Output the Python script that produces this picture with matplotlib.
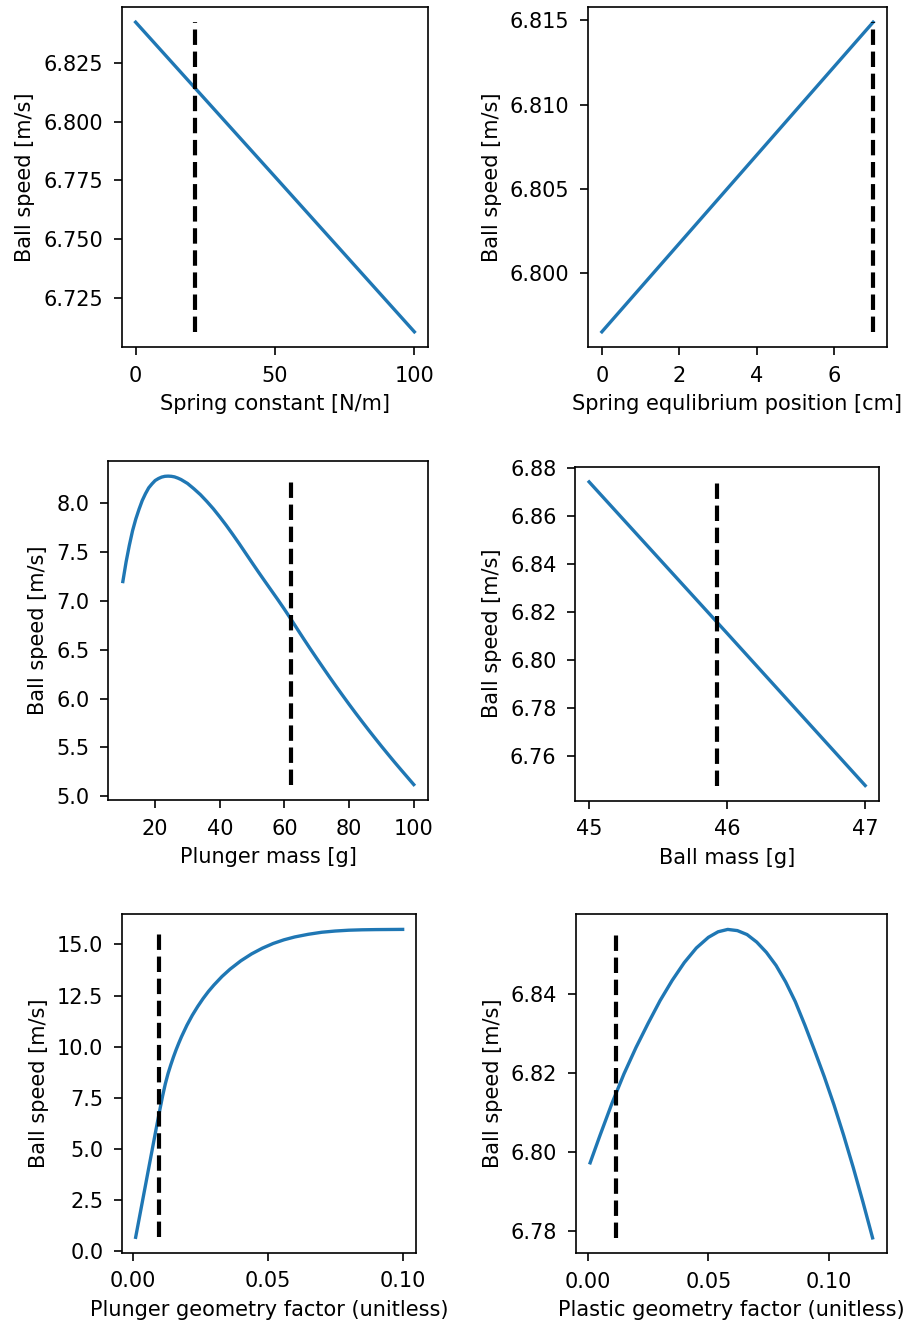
import matplotlib
matplotlib.use("Agg")
import matplotlib.pyplot as plt

W, H, DPI = 911, 1330, 150

# ---- data ----
spring_k = [0, 50, 100]
speed_k = [6.8423, 6.7765, 6.7105]
k_nominal = 21.2

spring_eq = [0, 3.5, 7]
speed_eq = [6.7965, 6.8057, 6.8149]
eq_nominal = 7.0

plunger_mass = [10, 11, 12, 13, 14, 15, 16, 17, 18, 19, 20, 21, 22, 23, 24, 25,
                26, 27, 28, 30, 32, 34, 36, 38, 40, 42, 44, 46, 48, 50, 52, 54,
                56, 58, 60, 62, 64, 66, 68, 70, 72, 74, 76, 78, 80, 82, 84, 86,
                88, 90, 92, 94, 96, 98, 100]
speed_pm = [7.20, 7.40, 7.57, 7.72, 7.84, 7.94, 8.03, 8.10, 8.16, 8.20, 8.235,
            8.255, 8.27, 8.278, 8.28, 8.278, 8.272, 8.26, 8.245, 8.205, 8.15,
            8.09, 8.02, 7.945, 7.862, 7.775, 7.683, 7.588, 7.490, 7.392, 7.295,
            7.200, 7.106, 7.012, 6.915, 6.815, 6.712, 6.610, 6.510, 6.412, 6.315,
            6.219, 6.125, 6.033, 5.942, 5.853, 5.766, 5.680, 5.596, 5.513,
            5.432, 5.352, 5.274, 5.197, 5.12]
pm_nominal = 62.1

ball_mass = [45, 46, 47]
speed_bm = [6.8742, 6.8110, 6.7475]
bm_nominal = 45.93

plunger_geo = [0.001, 0.002, 0.003, 0.004, 0.005, 0.006, 0.007, 0.008, 0.009,
               0.010, 0.011, 0.012, 0.013, 0.014, 0.015, 0.016, 0.017, 0.018,
               0.020, 0.022, 0.024, 0.026, 0.028, 0.030, 0.033, 0.036, 0.040,
               0.044, 0.048, 0.052, 0.056, 0.060, 0.065, 0.070, 0.075, 0.080,
               0.085, 0.090, 0.095, 0.100]
speed_pg = [0.65, 1.35, 2.05, 2.75, 3.45, 4.15, 4.85, 5.55, 6.24,
            6.92, 7.58, 8.17, 8.67, 9.09, 9.48, 9.84, 10.17, 10.48,
            11.04, 11.53, 11.96, 12.35, 12.70, 13.01, 13.43, 13.79, 14.20,
            14.54, 14.82, 15.05, 15.23, 15.37, 15.50, 15.60, 15.66, 15.70,
            15.72, 15.73, 15.735, 15.74]
pg_nominal = 0.0098

plastic_geo = [0.001, 0.005, 0.010, 0.015, 0.020, 0.025, 0.030, 0.035, 0.040,
               0.045, 0.050, 0.054, 0.058, 0.062, 0.066, 0.070, 0.074, 0.078,
               0.082, 0.086, 0.090, 0.094, 0.098, 0.102, 0.106, 0.110, 0.114,
               0.118]
speed_plg = [6.7972, 6.8040, 6.8122, 6.8197, 6.8264, 6.8325, 6.8383, 6.8434,
             6.8479, 6.8516, 6.8543, 6.8557, 6.8563, 6.8560, 6.8550, 6.8531,
             6.8505, 6.8472, 6.8430, 6.8380, 6.8320, 6.8256, 6.8190, 6.8119,
             6.8042, 6.7960, 6.7873, 6.7782]
plg_nominal = 0.0116

panels = [
    (spring_k, speed_k, k_nominal, "Spring constant [N/m]", (121.7, 428.3, 6.7, 347.3)),
    (spring_eq, speed_eq, eq_nominal, "Spring equlibrium position [cm]", (588.3, 886.7, 6.7, 347.3)),
    (plunger_mass, speed_pm, pm_nominal, "Plunger mass [g]", (108.3, 428.3, 460.7, 800.0)),
    (ball_mass, speed_bm, bm_nominal, "Ball mass [g]", (575.3, 879.0, 466.7, 800.7)),
    (plunger_geo, speed_pg, pg_nominal, "Plunger geometry factor (unitless)", (122.3, 416.0, 914.0, 1252.7)),
    (plastic_geo, speed_plg, plg_nominal, "Plastic geometry factor (unitless)", (576.0, 886.7, 914.0, 1253.3)),
]

fig = plt.figure(figsize=(W / DPI, H / DPI), dpi=DPI)
for x, y, x0, xlabel, (l, r, t, b) in panels:
    ax = fig.add_axes([l / W, 1 - b / H, (r - l) / W, (b - t) / H])
    ax.plot(x, y, color="#1f77b4", lw=1.6)
    ax.vlines(x0, min(y), max(y), colors="k", linestyles="--", lw=2)
    ax.set_xlabel(xlabel)
    ax.set_ylabel("Ball speed [m/s]")
    ax.tick_params(axis="both", length=4, pad=5)

ax_list = fig.axes
ax_list[0].set_yticks([6.725, 6.750, 6.775, 6.800, 6.825])
ax_list[0].set_xticks([0, 50, 100])
ax_list[1].set_yticks([6.800, 6.805, 6.810, 6.815])
ax_list[1].set_xticks([0, 2, 4, 6])
ax_list[2].set_xticks([20, 40, 60, 80, 100])
ax_list[3].set_xticks([45, 46, 47])
ax_list[4].set_xticks([0.00, 0.05, 0.10])
ax_list[5].set_xticks([0.00, 0.05, 0.10])
ax_list[5].set_yticks([6.78, 6.80, 6.82, 6.84])

fig.savefig("out.png", dpi=DPI)
